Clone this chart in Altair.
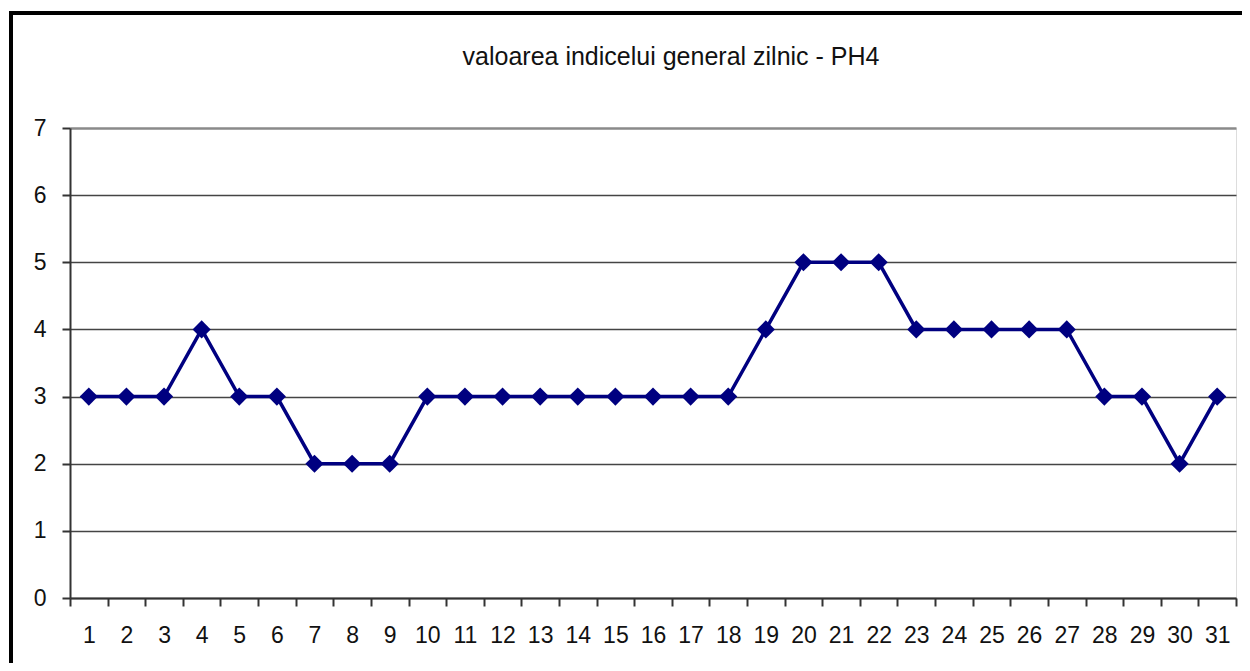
import altair as alt
import pandas as pd

days = [str(d) for d in range(1, 32)]
values = [3, 3, 3, 4, 3, 3, 2, 2, 2, 3, 3, 3, 3, 3, 3, 3, 3, 3, 4, 5, 5, 5, 4, 4, 4, 4, 4, 3, 3, 2, 3]
y_ticks = [0, 1, 2, 3, 4, 5, 6, 7]
title_text = "valoarea indicelui general zilnic - PH4"

df = pd.DataFrame({"zi": days, "valoare": values})

FONT = "Liberation Sans"

x_enc = alt.X(
    "zi:O",
    sort=days,
    scale=alt.Scale(paddingInner=0, paddingOuter=0),
    axis=alt.Axis(
        title=None,
        labelAngle=0,
        labelFontSize=23,
        labelFont=FONT,
        labelColor="#111111",
        labelPadding=18,
        tickBand="extent",
        tickSize=8,
        tickColor="#333333",
        tickWidth=2,
        domainColor="#333333",
        domainWidth=2,
        grid=False,
    ),
)
y_enc = alt.Y(
    "valoare:Q",
    scale=alt.Scale(domain=[0, 7], nice=False, zero=True),
    axis=alt.Axis(
        title=None,
        values=y_ticks,
        format="d",
        labelFontSize=23,
        labelFont=FONT,
        labelColor="#111111",
        labelPadding=16,
        tickSize=8,
        tickColor="#333333",
        tickWidth=2,
        domainColor="#333333",
        domainWidth=2,
        grid=True,
        gridColor=alt.condition("datum.value == 7", alt.value("#8a8a8a"), alt.value("#444444")),
        gridWidth=alt.condition("datum.value == 7", alt.value(2.5), alt.value(1.3)),
    ),
)

base = alt.Chart(df)

line = base.mark_line(color="#000080", strokeWidth=3.5).encode(x=x_enc, y=y_enc)
points = base.mark_point(
    shape="diamond", filled=True, color="#000080", size=330, opacity=1
).encode(x=alt.X("zi:O", sort=days), y="valoare:Q")

frame = base.mark_rect(
    fill=None, stroke="#000000", strokeWidth=3.5, clip=False
).encode(
    x=alt.value(-59), x2=alt.value(1200), y=alt.value(-115), y2=alt.value(620)
)

title_df = pd.DataFrame({"t": [title_text]})
title_mark = alt.Chart(title_df).mark_text(
    font=FONT, fontSize=25, color="#111111", align="center", baseline="middle"
).encode(text="t:N", x=alt.value(601), y=alt.value(-71))

chart = (
    alt.layer(frame, line, points, title_mark)
    .properties(
        width=1166,
        height=470,
        autosize=alt.AutoSizeParams(type="none"),
        padding={"left": 62, "top": 120, "right": 6, "bottom": 65},
    )
    .configure_view(stroke="#8a8a8a", strokeWidth=2.5)
    .configure(background="white")
)

chart.save("out.html", embed_options={"renderer": "svg", "actions": False})
